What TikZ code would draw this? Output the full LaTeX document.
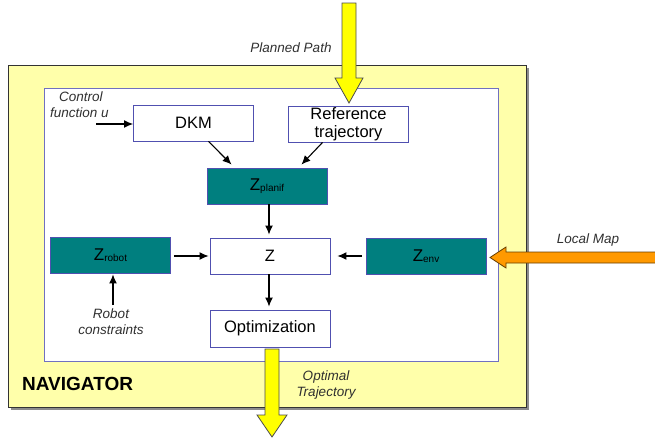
\documentclass[tikz,border=0pt]{standalone}
\usepackage{fontspec}
\setmainfont{Liberation Sans}
\usetikzlibrary{arrows.meta,calc}
\definecolor{paleyel}{HTML}{FFFFAA}
\definecolor{tealbox}{HTML}{007F7F}
\definecolor{boxline}{HTML}{5050B0}
\definecolor{innerline}{HTML}{7070C0}
\definecolor{arrowyel}{HTML}{FFFF00}
\definecolor{arroworange}{HTML}{FF9900}
\definecolor{labelgray}{HTML}{303030}
\newcommand{\boxfont}{\fontsize{16.5}{18.5}\selectfont}
\newcommand{\subfont}{\fontsize{10}{11}\selectfont}
\newcommand{\zsub}[1]{{\fontsize{17}{18}\selectfont Z}\raisebox{-1pt}{\subfont #1}}
\begin{document}
\begin{tikzpicture}[x=1pt,y=-1pt,
  wbox/.style={draw=boxline,line width=0.9pt,fill=white,minimum width=120pt,minimum height=36pt,inner sep=0pt,align=center,font=\boxfont,text=black},
  tbox/.style={draw=boxline,line width=0.9pt,fill=tealbox,minimum width=120pt,minimum height=36pt,inner sep=0pt,align=center,text=black},
  conn/.style={line width=1.1pt,-{Latex[length=9pt,width=8pt]}},
  lbl/.style={font=\fontsize{13.5}{16}\selectfont\itshape,text=labelgray,align=center,inner sep=0pt},
  fatarrow/.style={line width=0.8pt,line join=miter}]
\useasboundingbox (0,0) rectangle (655,439);
% outer navigator box
\fill[black!45] (11,68) rectangle (529,410);
\node[draw=black!80,line width=0.9pt,fill=paleyel,minimum width=518pt,minimum height=342pt,inner sep=0pt] (nav) at (267.5,236) {};
\node[draw=innerline,line width=0.9pt,fill=white,minimum width=454pt,minimum height=273pt,inner sep=0pt] (inner) at (271.5,224.5) {};
\node[font=\fontsize{19}{20}\selectfont\bfseries,anchor=west,inner sep=0pt] (navlbl) at (22,384) {NAVIGATOR};
% boxes
\node[wbox] (dkm) at (193.5,123) {DKM};
\node[wbox] (ref) at (348.5,124) {Reference\\trajectory};
\node[tbox] (zp) at (267,186) {\zsub{planif}};
\node[wbox] (z) at (270,256) {Z};
\node[tbox] (zr) at (110.5,255) {\zsub{robot}};
\node[tbox] (ze) at (426,256) {\zsub{env}};
\node[wbox,minimum height=37pt] (opt) at (270,328.5) {Optimization};
% labels
\node[lbl] (pp) at (291,48) {Planned Path};
\node[lbl,align=left,anchor=west] (cf) at (50,105) {\hspace*{9pt}Control\\function u};
\node[lbl] (rcl) at (111,322) {Robot\\constraints};
\node[lbl] (lm) at (588,240) {Local Map};
\node[lbl] (ot) at (326,385.5) {Optimal\\Trajectory};
% connectors
\coordinate (cu) at (96,124);
\coordinate (rc) at (113,305);
\draw[conn] (cu) -- (cu -| dkm.west);
\draw[conn] ($(dkm.south)+(15,0)$) -- ($(zp.north west)+(25,-3)$);
\draw[conn] ($(ref.south)+(-26,0)$) -- ($(zp.north east)+(-26,-3)$);
\draw[conn,shorten >=3pt] ($(zp.south)+(2,0)$) -- ($(z.north)+(-1,0)$);
\draw[conn,shorten <=3pt,shorten >=1pt] (zr.east |- z.west) -- (z.west);
\draw[conn,shorten <=3.5pt,shorten >=7pt] (ze.west) -- (z.east);
\draw[conn,shorten >=1pt] (rc) -- (rc |- zr.south);
\draw[conn,shorten >=3pt] ($(z.south)+(-1,0)$) -- ($(opt.north)+(-1,0)$);
% fat arrows
\draw[fatarrow,fill=arrowyel,draw=black!70] (342,3) -- (356,3) -- (356,78) -- (363,78) -- (349,103) -- (335,78) -- (342,78) -- cycle;
\draw[fatarrow,fill=arrowyel,draw=black!70] (265,349) -- (279,349) -- (279,415) -- (287,415) -- (272,437) -- (257,415) -- (265,415) -- cycle;
\draw[fatarrow,fill=arroworange,draw=black!60!arroworange] (656,252) -- (506,252) -- (506,247) -- (490,257.5) -- (506,268) -- (506,263) -- (656,263);
\end{tikzpicture}
\end{document}
